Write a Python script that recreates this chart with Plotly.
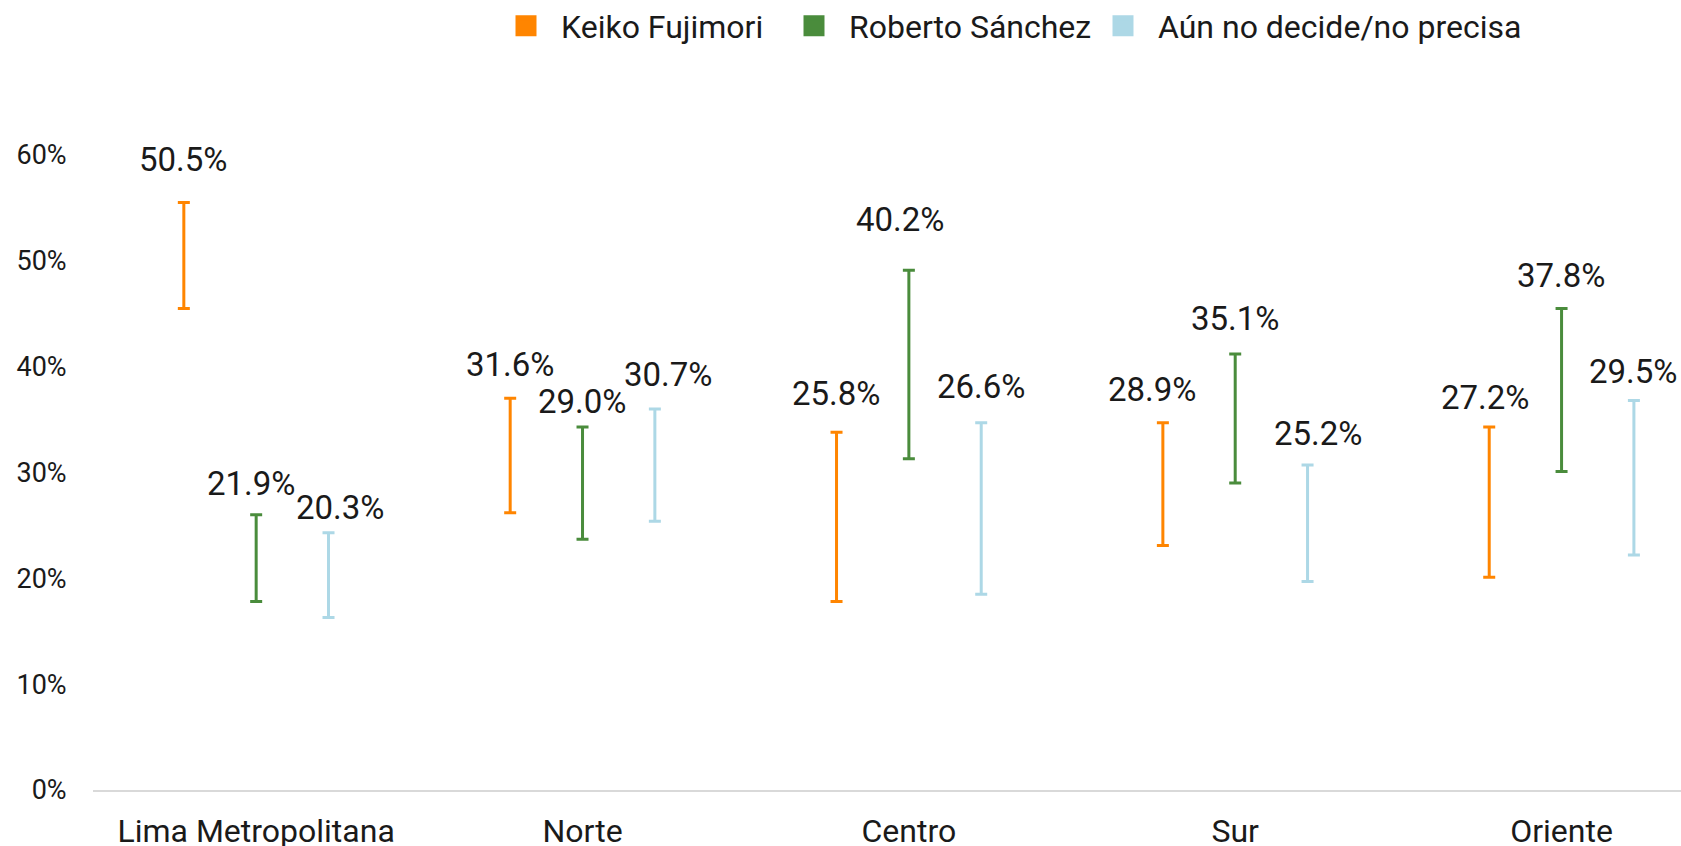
import plotly.graph_objects as go

FONT = "Roboto, 'Open Sans', Arial, sans-serif"
INK = "#1a1a1a"
AXIS = "#d9d9d9"

regions = ["Lima Metropolitana", "Norte", "Centro", "Sur", "Oriente"]

series_names = ["Keiko Fujimori", "Roberto Sánchez", "Aún no decide/no precisa"]
series_colors = ["#ff8500", "#4a8c3c", "#add8e6"]

# point estimates (%)
keiko = [50.5, 31.6, 25.8, 28.9, 27.2]
sanchez = [21.9, 29.0, 40.2, 35.1, 37.8]
undecided = [20.3, 30.7, 26.6, 25.2, 29.5]

# margins of error (+/- %)
keiko_moe = [5.0, 5.4, 8.0, 5.8, 7.1]
sanchez_moe = [4.1, 5.3, 8.9, 6.1, 7.7]
undecided_moe = [4.0, 5.3, 8.1, 5.5, 7.3]

values = [keiko, sanchez, undecided]
moes = [keiko_moe, sanchez_moe, undecided_moe]

# label nudges in px (dx, dy) per series, per region -- the source chart
# pushed some labels sideways/up to keep them apart
label_dx = [[0, 0, 0, -10, -4], [-5, 0, -8, 0, 0], [12, 14, 0, 11, 0]]
label_dy = [[10, 1, 6, 0, -4], [-2, -8, 18, 2, 0], [-8, 1, 3, -1, -4]]
LABEL_GAP = 33

SCATTER_GAP = 0.335
slot = (1 - SCATTER_GAP) / len(series_names)

# legend left edges in px (container)
legend_left = [491, 779, 1088]

fig = go.Figure()

for i, (name, color, vals, moe) in enumerate(zip(series_names, series_colors, values, moes)):
    legend_id = "legend" if i == 0 else f"legend{i + 1}"
    fig.add_trace(go.Scatter(
        x=regions, y=vals, mode="markers", name=name,
        offsetgroup=f"g{i}",
        marker=dict(size=10, color=color, opacity=0),
        error_y=dict(type="data", array=moe, symmetric=True,
                     color=color, thickness=3, width=6),
        showlegend=False, hoverinfo="skip",
    ))
    # legend swatch
    fig.add_trace(go.Scatter(
        x=[None], y=[None], mode="markers", name=name,
        marker=dict(size=16, symbol="square", color=color,
                    line=dict(width=5, color=color)),
        legend=legend_id, showlegend=True,
    ))
    for k, (v, m) in enumerate(zip(vals, moe)):
        fig.add_annotation(
            x=k + (i - 1) * slot, y=v + m, xref="x", yref="y",
            text=f"{v:.1f}%", showarrow=False,
            xanchor="center", yanchor="middle",
            xshift=label_dx[i][k], yshift=LABEL_GAP + label_dy[i][k],
            font=dict(family=FONT, size=33, color=INK),
        )

legend_common = dict(
    orientation="h", xref="container", yref="container",
    xanchor="left", yanchor="middle", y=1 - 26 / 846,
    font=dict(family=FONT, size=32, color=INK),
    bgcolor="rgba(0,0,0,0)", borderwidth=0, itemwidth=60,
)

fig.update_layout(
    width=1681, height=846,
    plot_bgcolor="white", paper_bgcolor="white",
    font=dict(family=FONT, size=26, color=INK),
    margin=dict(l=93, r=0, t=102, b=56, autoexpand=False),
    scattermode="group", scattergap=SCATTER_GAP,
    legend=dict(x=legend_left[0] / 1681, **legend_common),
    legend2=dict(x=legend_left[1] / 1681, **legend_common),
    legend3=dict(x=legend_left[2] / 1681, **legend_common),
    xaxis=dict(
        type="category", range=[-0.5, 4.366],
        showgrid=False, zeroline=False,
        showline=True, linecolor=AXIS, linewidth=2,
        ticks="outside", ticklen=12, tickcolor="rgba(0,0,0,0)",
        tickfont=dict(family=FONT, size=32, color=INK),
    ),
    yaxis=dict(
        range=[0, 65], dtick=10, ticksuffix="%",
        showgrid=False, zeroline=False, showline=False,
        ticks="outside", ticklen=20, tickcolor="rgba(0,0,0,0)",
        tickfont=dict(family=FONT, size=27, color=INK),
    ),
)

fig.write_html("out.html", config={"displayModeBar": False},
               post_script="document.body.style.margin='0';")
